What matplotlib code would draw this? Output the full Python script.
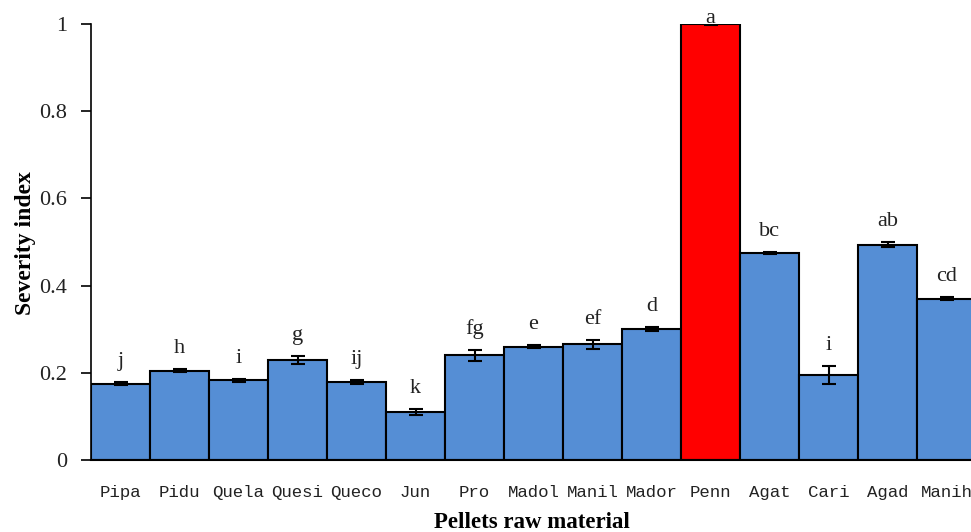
import matplotlib
matplotlib.use("Agg")
import matplotlib.pyplot as plt
import numpy as np

categories = ["Pipa", "Pidu", "Quela", "Quesi", "Queco", "Jun", "Pro", "Madol",
              "Manil", "Mador", "Penn", "Agat", "Cari", "Agad", "Manih"]
values = [0.175, 0.205, 0.183, 0.229, 0.179, 0.110, 0.240, 0.260,
          0.265, 0.300, 1.000, 0.475, 0.195, 0.494, 0.370]
errors = [0.003, 0.004, 0.003, 0.009, 0.004, 0.007, 0.012, 0.004,
          0.010, 0.004, 0.003, 0.002, 0.020, 0.006, 0.004]
letters = ["j", "h", "i", "g", "ij", "k", "fg", "e", "ef", "d", "a", "bc", "i", "ab", "cd"]

plt.rcParams['font.family'] = ['Liberation Serif', 'DejaVu Serif']

W, H = 971, 532
fig = plt.figure(figsize=(W / 100, H / 100), dpi=100)
left_px, right_px, top_px, bottom_px = 91, 971, 24, 460
ax = fig.add_axes([left_px / W, (H - bottom_px) / H,
                   (right_px - left_px) / W, (bottom_px - top_px) / H])

x = np.arange(len(categories))
colors = ["#FF0000" if c == "Penn" else "#558ED5" for c in categories]
ax.bar(x, values, width=1.0, color=colors, edgecolor="black", linewidth=1.5, zorder=2)
ax.errorbar(x, values, yerr=errors, fmt="none", ecolor="black", elinewidth=1.5,
            capsize=5, capthick=1.5, zorder=3)

for xi, v, e, lab in zip(x, values, errors, letters):
    y = v + 0.002 if v >= 0.999 else v + e + 0.037
    ax.text(xi, y, lab, ha="center", va="baseline", fontsize=16,
            color="#222222", clip_on=False, zorder=4)

ax.set_xlim(-0.5, -0.5 + (right_px - left_px) / 59.0)
ax.set_ylim(0, 1)
ax.set_yticks([0, 0.2, 0.4, 0.6, 0.8, 1.0])
ax.set_yticklabels(["0", "0.2", "0.4", "0.6", "0.8", "1"], fontsize=16, color="#222222")
ax.set_xticks(x)
ax.set_xticklabels(categories, fontsize=12.5, color="#222222",
                   family=["Liberation Mono", "DejaVu Sans Mono"])
ax.tick_params(axis="x", length=0, pad=18)
ax.tick_params(axis="y", length=7, width=1.2, direction="out", pad=10)

for s in ["top", "right"]:
    ax.spines[s].set_visible(False)
ax.spines["left"].set_linewidth(1.2)
ax.spines["bottom"].set_linewidth(1.5)

fig.text(25 / W, 1 - 243 / H, "Severity index", rotation=90, ha="center", va="center",
         fontsize=17, fontweight="bold")
fig.text(532 / W, 1 - 528 / H, "Pellets raw material", ha="center", va="baseline",
         fontsize=16.5, fontweight="bold")

fig.savefig("out.png", dpi=100)
